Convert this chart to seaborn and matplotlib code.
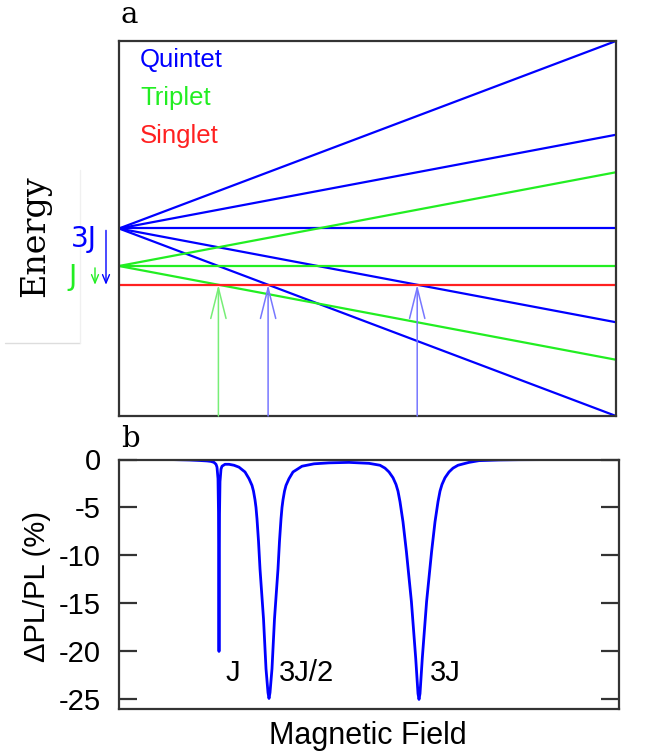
import numpy as np
import pandas as pd
import seaborn as sns
import matplotlib
matplotlib.use("Agg")
import matplotlib.pyplot as plt
from matplotlib.transforms import blended_transform_factory

# ---------------- data ----------------
field_range = [0.0, 5.0]                 # magnetic field (units of J/g)
quintet_E0 = 3.0                          # zero-field energy (units of J)
quintet_m = [2, 1, 0, -1, -2]
triplet_E0 = 1.0
triplet_m = [1, 0, -1]
singlet_E0 = 0.0
state_names = ["Quintet", "Triplet", "Singlet"]
state_colors = ["#0000ff", "#22ee22", "#ff2020"]

# PL curve
pl_field = [0.0, 0.5, 0.7, 0.8, 0.88, 0.92, 0.95, 0.97, 0.98, 0.99, 0.995, 1.0,
            1.005, 1.01, 1.02, 1.03, 1.06, 1.1, 1.15, 1.2, 1.26, 1.3, 1.33, 1.345,
            1.36, 1.37, 1.38, 1.395, 1.41, 1.445, 1.47, 1.49, 1.5, 1.51, 1.53,
            1.555, 1.59, 1.605, 1.62, 1.63, 1.64, 1.655, 1.67, 1.7, 1.74, 1.83,
            1.95, 2.1, 2.3, 2.5, 2.61, 2.66, 2.7, 2.74, 2.77, 2.79, 2.81, 2.84,
            2.874, 2.924, 2.967, 2.99, 3.0, 3.01, 3.033, 3.076, 3.126, 3.16,
            3.19, 3.21, 3.23, 3.26, 3.3, 3.34, 3.39, 3.5, 3.6, 3.8, 4.0, 4.5, 5.0]
pl_value = [0.0, 0.0, -0.05, -0.1, -0.15, -0.2, -0.3, -0.5, -0.8, -2.0, -5.5, -20.0,
            -5.7, -2.3, -1.0, -0.7, -0.5, -0.5, -0.6, -0.8, -1.3, -2.0, -2.7, -3.3,
            -4.2, -5.0, -6.2, -8.5, -11.4, -16.6, -21.8, -24.3, -24.9, -24.3, -21.8,
            -16.6, -11.4, -8.5, -6.2, -5.0, -4.2, -3.3, -2.7, -2.0, -1.3, -0.7,
            -0.45, -0.35, -0.3, -0.4, -0.6, -0.9, -1.3, -1.9, -2.6, -3.3, -4.4, -6.5,
            -9.6, -14.8, -20.7, -24.4, -25.0, -24.4, -20.7, -14.8, -9.6, -6.5,
            -4.4, -3.3, -2.6, -1.9, -1.3, -0.9, -0.6, -0.3, -0.12, -0.05, -0.02,
            0.0, 0.0]
pl_yticks = [0, -5, -10, -15, -20, -25]
dip_labels = ["J", "3J/2", "3J"]
dip_label_field = [1.07, 1.60, 3.11]

# ---------------- style ----------------
sns.set_style("white")
plt.rcParams["font.family"] = ["Liberation Sans", "DejaVu Sans"]
plt.rcParams["text.color"] = "black"
plt.rcParams["axes.labelcolor"] = "black"
plt.rcParams["xtick.color"] = "black"
plt.rcParams["ytick.color"] = "black"

W, H = 654, 751
fig = plt.figure(figsize=(W / 100, H / 100), dpi=100)

def fx(px):
    return px / W

def fy(py):
    return 1 - py / H

ax1 = fig.add_axes([fx(119), fy(416), fx(616) - fx(119), fy(41) - fy(416)])
ax2 = fig.add_axes([fx(119), fy(709), fx(619) - fx(119), fy(459.5) - fy(709)])

# ---------------- panel a ----------------
rows = []
for m in quintet_m:
    for b in field_range:
        rows.append(dict(B=b, E=quintet_E0 + m * b, level=f"Q{m}", state="Quintet"))
for m in triplet_m:
    for b in field_range:
        rows.append(dict(B=b, E=triplet_E0 + m * b, level=f"T{m}", state="Triplet"))
for b in field_range:
    rows.append(dict(B=b, E=singlet_E0, level="S0", state="Singlet"))
levels = pd.DataFrame(rows)

for name, col in zip(state_names, state_colors):
    sub = levels[levels.state == name]
    sns.lineplot(data=sub, x="B", y="E", units="level", estimator=None,
                 color=col, lw=1.6, ax=ax1, legend=False)

ax1.set_xlim(field_range)
ax1.set_ylim(quintet_E0 + min(quintet_m) * field_range[1],
             quintet_E0 + max(quintet_m) * field_range[1])
ax1.set_xticks([])
ax1.set_yticks([])
ax1.set_xlabel("")
ax1.set_ylabel("")
for s in ax1.spines.values():
    s.set_color("#333333")
    s.set_linewidth(1.6)

# legend-like texts
for i, (name, col) in enumerate(zip(state_names, state_colors)):
    fig.text(fx(140), fy(60 + 38 * i), name, color=col, fontsize=18.5,
             ha="left", va="center")

# transition arrows (level crossings with singlet)
ybot = ax1.get_ylim()[0]
crossings = [(-(triplet_E0 - singlet_E0) / m, "#77ee77") for m in triplet_m if m < 0]
crossings += [(-(quintet_E0 - singlet_E0) / m, "#7777ff") for m in quintet_m if m < 0]
for bx, col in crossings:
    ax1.annotate("", xy=(bx, singlet_E0), xytext=(bx, ybot),
                 arrowprops=dict(arrowstyle="->,head_length=2.2,head_width=0.55",
                                 mutation_scale=10, color=col, lw=1.1,
                                 shrinkA=0, shrinkB=0))

# zero-field splitting labels
bt = blended_transform_factory(fig.transFigure, ax1.transData)
ax1.annotate("", xy=(fx(106), singlet_E0), xytext=(fx(106), quintet_E0 - 0.1),
             xycoords=bt, textcoords=bt,
             arrowprops=dict(arrowstyle="->,head_length=0.6,head_width=0.25",
                             mutation_scale=10, color="#0000ff", lw=1.0,
                             shrinkA=0, shrinkB=0))
ax1.annotate("", xy=(fx(95), singlet_E0), xytext=(fx(95), triplet_E0 - 0.1),
             xycoords=bt, textcoords=bt,
             arrowprops=dict(arrowstyle="->,head_length=0.6,head_width=0.25",
                             mutation_scale=10, color="#22ee22", lw=1.0,
                             shrinkA=0, shrinkB=0))
fig.text(fx(84), fy(239), "3J", color="#0000ff", fontsize=20,
         family="DejaVu Sans", ha="center", va="center")
fig.text(fx(73), fy(277), "J", color="#22ee22", fontsize=20,
         family="DejaVu Sans", ha="center", va="center")

fig.text(fx(35), fy(236.5), "Energy", rotation=90, fontsize=24,
         family="DejaVu Serif", ha="center", va="center")
fig.text(fx(121), fy(23), "a", fontsize=21, family="DejaVu Serif",
         ha="left", va="baseline")
fig.text(fx(121), fy(447), "b", fontsize=21, family="DejaVu Serif",
         ha="left", va="baseline")

# faint crop artefacts
fig.add_artist(plt.Line2D([fx(5), fx(80)], [fy(343), fy(343)],
                          color="#dddddd", lw=1))
fig.add_artist(plt.Line2D([fx(80), fx(80)], [fy(170), fy(343)],
                          color="#f0f0f0", lw=1))

# ---------------- panel b ----------------
pl = pd.DataFrame({"B": pl_field, "dPL": pl_value})
sns.lineplot(data=pl, x="B", y="dPL", color="#0000ff", lw=2.0, ax=ax2)
ax2.set_xlim(field_range)
ax2.set_ylim(-26.0, 0.0)
ax2.set_yticks(pl_yticks)
ax2.set_yticklabels([str(t) for t in pl_yticks])
ax2.set_xticks([])
ax2.set_xlabel("")
ax2.set_ylabel("")
ax2.tick_params(axis="y", direction="in", length=13, width=1.6, left=True,
                right=True, labelsize=21, pad=13, color="#333333",
                labelcolor="black")
for s in ax2.spines.values():
    s.set_color("#333333")
    s.set_linewidth(1.6)

for lab, bx in zip(dip_labels, dip_label_field):
    ax2.text(bx, -22.2, lab, fontsize=21, ha="left", va="center", color="black")

fig.text(fx(37), fy(586), "ΔPL/PL (%)", rotation=90, fontsize=21,
         ha="center", va="center", color="black")
fig.text(fx(368), fy(736), "Magnetic Field", fontsize=22,
         ha="center", va="center", color="black")

fig.savefig("out.png", dpi=100)
